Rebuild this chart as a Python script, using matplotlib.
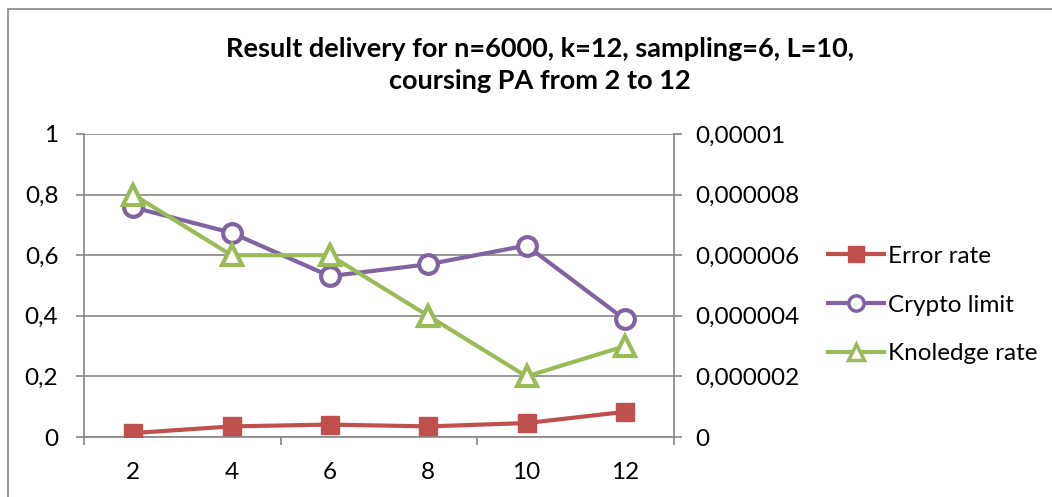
import matplotlib
matplotlib.use("Agg")
import matplotlib.pyplot as plt
from matplotlib.patches import Rectangle
from matplotlib.lines import Line2D

categories = ["2", "4", "6", "8", "10", "12"]
error_rate = [0.013, 0.035, 0.041, 0.035, 0.046, 0.083]
crypto_limit = [0.758, 0.674, 0.531, 0.570, 0.632, 0.388]
knoledge_rate = [0.8, 0.6, 0.6, 0.4, 0.2, 0.3]
left_ticks = [0, 0.2, 0.4, 0.6, 0.8, 1.0]
left_labels = ["0", "0,2", "0,4", "0,6", "0,8", "1"]
right_ticks = [0, 0.000002, 0.000004, 0.000006, 0.000008, 0.00001]
right_labels = ["0", "0,000002", "0,000004", "0,000006", "0,000008", "0,00001"]
title = "Result delivery for n=6000, k=12, sampling=6, L=10,\ncoursing PA from 2 to 12"

plt.rcParams['font.family'] = ['Lato', 'DejaVu Sans']
W, H = 1052, 497
fig = plt.figure(figsize=(W / 100, H / 100), dpi=100)
fig.patch.set_facecolor("white")

# outer chart border
fig.patches.append(Rectangle((8 / W, -0.1), 1.2, 1 - 9 / H + 0.1, transform=fig.transFigure,
                             fill=False, edgecolor="#868686", linewidth=1.2))

ax = fig.add_axes([84 / W, 1 - 437 / H, (674 - 84) / W, (437 - 134) / H])
ax2 = ax.twinx()

grid_c = "#868686"
x = list(range(len(categories)))
red, purple, green = "#C0504D", "#8064A2", "#9BBB59"

ax.plot(x, error_rate, color=red, lw=3, marker="s", ms=13.5, mfc=red, mec=red, zorder=3)
ax.plot(x, crypto_limit, color=purple, lw=3, marker="o", ms=13.5, mfc="white", mec=purple, mew=3, zorder=3)
ax.plot(x, knoledge_rate, color=green, lw=3, marker="^", ms=14, mfc="white", mec=green, mew=3, zorder=3)

ax.set_xlim(-0.5, len(categories) - 0.5)
ax.set_ylim(0, 1)
ax2.set_ylim(0, 0.00001)

ax.set_yticks(left_ticks)
ax.set_yticklabels(left_labels)
ax2.set_yticks(right_ticks)
ax2.set_yticklabels(right_labels)
ax.set_xticks(x)
ax.set_xticklabels(categories)
ax.set_xticks([-0.5, 1.5, 3.5, 5.5], minor=True)

for a in (ax, ax2):
    for s in a.spines.values():
        s.set_visible(False)
    a.tick_params(axis="y", colors=grid_c, labelcolor="black", labelsize=17.5, length=6, width=1.2)
ax.tick_params(axis="x", which="major", length=0, labelsize=17.5, labelcolor="black", pad=18)
ax.tick_params(axis="x", which="minor", length=6, width=1.2, colors=grid_c)
ax.tick_params(axis="y", pad=12.5)
ax2.tick_params(axis="y", pad=9)

for a, side in ((ax, "left"), (ax2, "right"), (ax, "bottom")):
    a.spines[side].set_visible(True)
    a.spines[side].set_color(grid_c)
    a.spines[side].set_linewidth(1.2)

ax.yaxis.grid(True, color=grid_c, lw=1.2)
ax.set_axisbelow(True)
ax.set_zorder(ax2.get_zorder() + 1)
ax.patch.set_visible(False)

fig.text(540 / W, 1 - 65 / H, title, ha="center", va="center", fontsize=19.5,
         fontweight="bold", linespacing=1.4)

handles = [
    Line2D([], [], color=red, lw=3, marker="s", ms=12, mfc=red, mec=red),
    Line2D([], [], color=purple, lw=3, marker="o", ms=11, mfc="white", mec=purple, mew=2.5),
    Line2D([], [], color=green, lw=3, marker="^", ms=11, mfc="white", mec=green, mew=2.5),
]
fig.legend(handles, ["Error rate", "Crypto limit", "Knoledge rate"], loc="center left",
           bbox_to_anchor=(818 / W, 1 - 305 / H), frameon=False, fontsize=17.5,
           handlelength=2.3, handletextpad=0.2, labelspacing=1.15, borderaxespad=0)

fig.savefig("out.png", dpi=100, facecolor="white")
